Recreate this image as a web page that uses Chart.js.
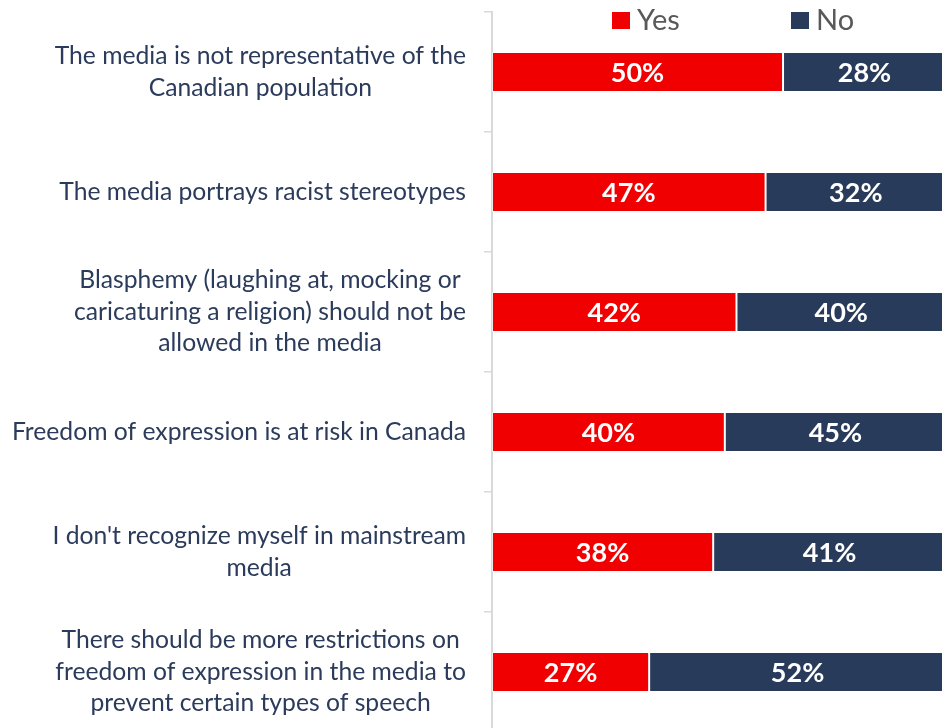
<!DOCTYPE html>
<html>
<head>
<meta charset="utf-8">
<script src="https://cdn.jsdelivr.net/npm/chart.js@4"></script>
<style>
html, body { margin: 0; padding: 0; overflow: hidden; background: #fff; }
</style>
</head>
<body>
<canvas id="myBarChart" width="946" height="732"></canvas>
<script>
// survey statements, one array of lines per row
var statements = [
    ['The media is not representative of the', 'Canadian population'],
    ['The media portrays racist stereotypes'],
    ['Blasphemy (laughing at, mocking or', 'caricaturing a religion) should not be', 'allowed in the media'],
    ['Freedom of expression is at risk in Canada'],
    ["I don't recognize myself in mainstream", 'media'],
    ['There should be more restrictions on', 'freedom of expression in the media to', 'prevent certain types of speech']
];
var yesValues = [50, 47, 42, 40, 38, 27];   // % answering yes
var noValues = [28, 32, 40, 45, 41, 52];    // % answering no
var seriesNames = ['Yes', 'No'];

var textColor = '#2B3B5B';
var labelFont = '24.7px Lato';
var labelLineHeight = 31.5;

// wrapped statements, each block right aligned with its lines centred
var statementLabels = {
    id: 'statementLabels',
    afterDraw: function(chart) {
        var ctx = chart.ctx;
        var yAxis = chart.scales.y;
        ctx.save();
        ctx.font = labelFont;
        ctx.fillStyle = textColor;
        ctx.textAlign = 'center';
        ctx.textBaseline = 'middle';
        statements.forEach(function(lines, i) {
            var w = Math.max.apply(null, lines.map(function(l) { return ctx.measureText(l).width; }));
            var cx = yAxis.right - 26 - w / 2;
            var cy = yAxis.getPixelForValue(i);
            lines.forEach(function(l, j) {
                ctx.fillText(l, cx, cy + (j - (lines.length - 1) / 2) * labelLineHeight);
            });
        });
        ctx.restore();
    }
};

// percentages in the middle of the visible part of each bar
var barValues = {
    id: 'barValues',
    afterDatasetsDraw: function(chart) {
        var ctx = chart.ctx;
        var area = chart.chartArea;
        ctx.save();
        ctx.font = 'bold 27px Lato';
        ctx.fillStyle = '#ffffff';
        ctx.textAlign = 'center';
        ctx.textBaseline = 'middle';
        chart.data.datasets.forEach(function(ds, di) {
            chart.getDatasetMeta(di).data.forEach(function(bar, i) {
                var l = Math.max(Math.min(bar.base, bar.x), area.left);
                var r = Math.min(Math.max(bar.base, bar.x), area.right);
                ctx.fillText(ds.data[i] + '%', (l + r) / 2, bar.y + 1);
            });
        });
        ctx.restore();
    }
};

// legend drawn over the top of the plot
var topLegend = {
    id: 'topLegend',
    afterDraw: function(chart) {
        var ctx = chart.ctx;
        var x = chart.chartArea.left + 120;
        ctx.save();
        ctx.font = '29px Lato';
        ctx.textBaseline = 'middle';
        ctx.textAlign = 'left';
        chart.data.datasets.forEach(function(ds, di) {
            var sx = x + di * 179;
            ctx.fillStyle = ds.backgroundColor;
            ctx.fillRect(sx, 12, 18, 17);
            ctx.fillStyle = '#595959';
            ctx.fillText(ds.label, sx + 25, 21);
        });
        ctx.restore();
    }
};

var ctx = document.getElementById('myBarChart').getContext('2d');
var chart = new Chart(ctx, {
    type: 'bar',
    data: {
        labels: statements,
        datasets: [{
            label: seriesNames[0],
            backgroundColor: '#F00000',
            borderColor: 'rgba(255, 255, 255, 0.45)',
            borderWidth: 1,
            borderSkipped: false,
            data: yesValues
        }, {
            label: seriesNames[1],
            backgroundColor: '#283B5B',
            borderColor: 'rgba(255, 255, 255, 0.45)',
            borderWidth: 1,
            borderSkipped: false,
            data: noValues
        }]
    },
    options: {
        indexAxis: 'y',
        responsive: false,
        animation: false,
        barPercentage: 0.333,
        categoryPercentage: 1,
        layout: { padding: { top: 12, right: 0, bottom: 0, left: 0 } },
        plugins: {
            legend: { display: false },
            tooltip: { enabled: false }
        },
        scales: {
            x: {
                display: false,
                stacked: true,
                min: 0,
                max: 78
            },
            y: {
                stacked: true,
                afterFit: function(scale) { scale.width = 492; },
                ticks: { display: false },
                border: { color: '#D9D9D9', width: 2 },
                grid: {
                    drawOnChartArea: false,
                    drawTicks: true,
                    tickLength: 8,
                    color: '#D9D9D9',
                    lineWidth: 1.5
                }
            }
        }
    },
    plugins: [statementLabels, barValues, topLegend]
});
</script>
</body>
</html>
